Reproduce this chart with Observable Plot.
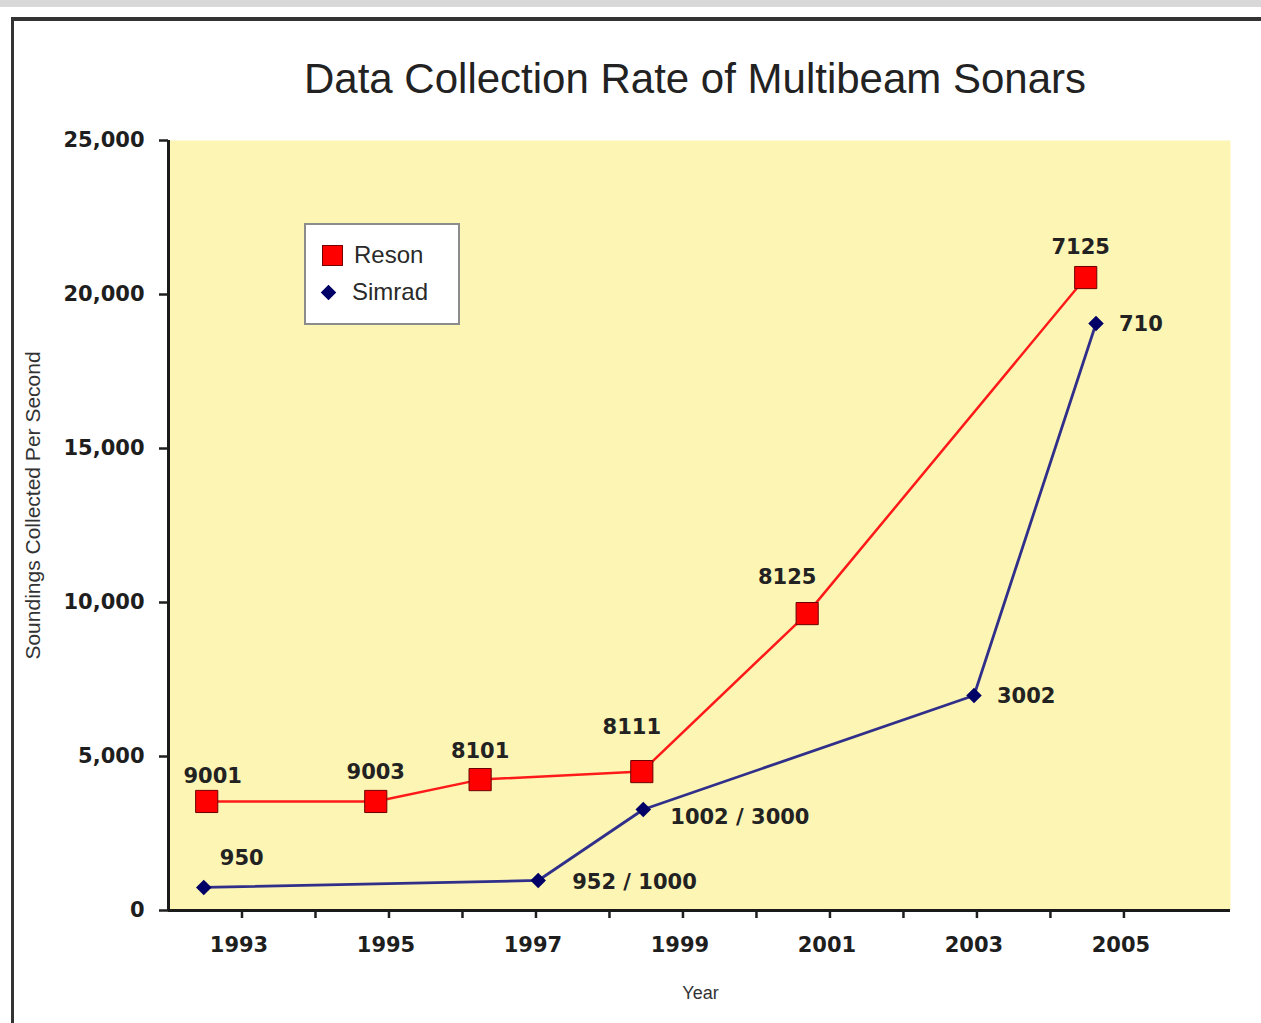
<!DOCTYPE html>
<html><head><meta charset="utf-8">
<script src="https://cdn.jsdelivr.net/npm/d3@7"></script>
<script src="https://cdn.jsdelivr.net/npm/@observablehq/plot@0.6"></script>
<style>
html,body{margin:0;padding:0;background:#fff;overflow:hidden;width:1261px;height:1023px;}
#topbar{position:absolute;left:0;top:0;width:1261px;height:7px;background:#d8d8d8;}
#frame{position:absolute;left:11px;top:17px;width:1300px;height:1100px;border-top:4px solid #333;border-left:3px solid #333;}
#title{margin:0;padding-top:37px;height:41px;font-family:"Liberation Sans",Arial,sans-serif;font-size:42px;line-height:41px;font-weight:normal;color:#222;white-space:nowrap;}
#title span{position:relative;left:681px;display:inline-block;transform:translateX(-50%);}
#chart{position:relative;}
#legend{position:absolute;left:304px;top:223px;width:156px;height:102px;box-sizing:border-box;background:#fff;border:2px solid #8c8c8c;font-family:"Liberation Sans",Arial,sans-serif;font-size:24px;color:#2a2a2a;}
#legend .sq{position:absolute;left:16px;top:20px;width:21px;height:21px;box-sizing:border-box;background:#ff0000;border:1px solid #700;}
#legend .dm{position:absolute;left:17px;top:62px;width:11px;height:11px;background:#000066;transform:rotate(45deg);}
#legend .t{position:absolute;line-height:24px;white-space:nowrap;}
</style></head>
<body>
<div id="topbar"></div>
<div id="frame">
  <h1 id="title"><span>Data Collection Rate of Multibeam Sonars</span></h1>
  <div id="chart"></div>
</div>
<div id="legend">
  <div class="sq"></div><div class="t" style="left:48px;top:18px">Reson</div>
  <div class="dm"></div><div class="t" style="left:46px;top:55px">Simrad</div>
</div>
<script>
// ---- data ----
const resonYear  = [1992.52, 1994.82, 1996.24, 1998.44, 2000.69, 2004.48];
const resonRate  = [3540, 3540, 4250, 4510, 9640, 20550];
const resonLabel = ["9001", "9003", "8101", "8111", "8125", "7125"];

const simradYear  = [1992.48, 1997.03, 1998.46, 2002.96, 2004.62];
const simradRate  = [750, 975, 3280, 6980, 19060];
const simradLabel = ["950", "952 / 1000", "1002 / 3000", "3002", "710"];

const yTicks = [0, 5000, 10000, 15000, 20000, 25000];
const xTicks = [1993, 1994, 1995, 1996, 1997, 1998, 1999, 2000, 2001, 2002, 2003, 2004, 2005];
const xTickLabels = [1993, 1995, 1997, 1999, 2001, 2003, 2005];

// ---- label placement (styling) ----
const resonDx = [6, 0, 0, -10, -20, -5];
const resonDy = [-25, -29, -28, -44, -36, -30];
const simradAnchor = ["middle", "start", "start", "start", "start"];
const simradDx = [38, 34, 27, 23, 23];
const simradDy = [-29, 2, 8, 1, 1];

const reson = resonYear.map((x, i) => ({year: x, rate: resonRate[i], label: resonLabel[i]}));
const simrad = simradYear.map((x, i) => ({year: x, rate: simradRate[i], label: simradLabel[i]}));

const W = 1247, H = 924;
const chart = Plot.plot({
  width: W, height: H,
  marginLeft: 154, marginRight: 31, marginTop: 41, marginBottom: 113,
  x: {domain: [1992, 2006.45], label: null},
  y: {domain: [0, 25000], label: null},
  style: {fontFamily: "'DejaVu Sans', Verdana, sans-serif", fontSize: "21px", fontWeight: "bold", color: "#1e1e1e", background: "transparent", overflow: "visible"},
  marks: [
    Plot.frame({fill: "#fdf5b4", stroke: "none"}),
    Plot.line(reson, {x: "year", y: "rate", stroke: "#ff1a1a", strokeWidth: 2.5}),
    Plot.line(simrad, {x: "year", y: "rate", stroke: "#30308a", strokeWidth: 2.8}),
    Plot.dot(reson, {x: "year", y: "rate", symbol: "square", r: 12.5, fill: "#ff0000", stroke: "#6a0000", strokeWidth: 1}),
    Plot.dot(simrad, {x: "year", y: "rate", symbol: "diamond2", r: 7, fill: "#000066", stroke: "none"}),
    ...reson.map((d, i) => Plot.text([d], {x: "year", y: "rate", text: "label", dx: resonDx[i], dy: resonDy[i], textAnchor: "middle", fill: "#222"})),
    ...simrad.map((d, i) => Plot.text([d], {x: "year", y: "rate", text: "label", dx: simradDx[i], dy: simradDy[i], textAnchor: simradAnchor[i], fill: "#222"})),
    Plot.ruleY([0], {stroke: "#1a1a1a", strokeWidth: 3}),
    Plot.ruleX([1992], {stroke: "#1a1a1a", strokeWidth: 3}),
    Plot.axisY(yTicks, {tickSize: 9, tickPadding: 15, strokeWidth: 2.5, tickFormat: d3.format(","), label: null}),
    Plot.axisX(xTicks, {tickSize: 8, strokeWidth: 2.5, text: null, label: null}),
    Plot.axisX(xTickLabels, {tickSize: 0, tickPadding: 27, dx: -3, tickFormat: d => String(d), label: null}),
    Plot.text(["Soundings Collected Per Second"], {frameAnchor: "left", textAnchor: "middle", dx: -135, dy: -20, rotate: -90, fontFamily: "'Liberation Sans', Arial, sans-serif", fontWeight: "normal", fontSize: 21, fill: "#333"}),
    Plot.text(["Year"], {frameAnchor: "bottom", dx: 1, dy: 88, fontFamily: "'Liberation Sans', Arial, sans-serif", fontWeight: "normal", fontSize: 18, fill: "#333"})
  ]
});
document.getElementById("chart").appendChild(chart);
</script>
</body></html>
